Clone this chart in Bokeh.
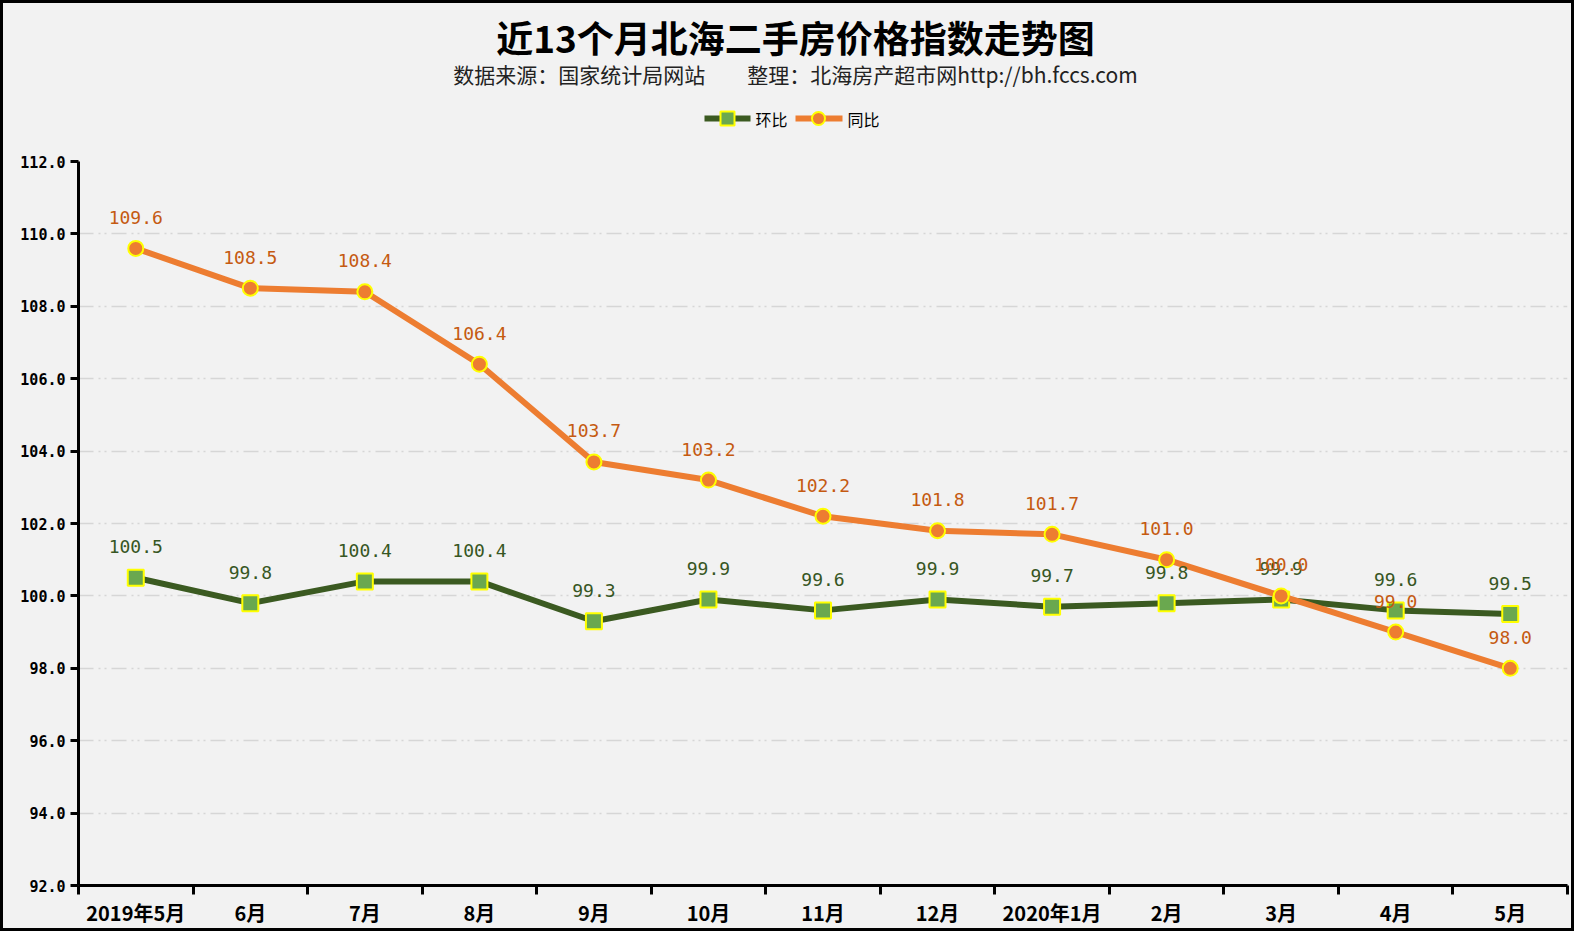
from bokeh.plotting import figure
from bokeh.layouts import column
from bokeh.models import (FixedTicker, PrintfTickFormatter, ColumnDataSource, Range1d,
                          InlineStyleSheet)
from bokeh.core.properties import value
from bokeh.embed import file_html
from bokeh.resources import INLINE

categories = ["2019年5月", "6月", "7月", "8月", "9月", "10月", "11月", "12月",
              "2020年1月", "2月", "3月", "4月", "5月"]
huanbi = [100.5, 99.8, 100.4, 100.4, 99.3, 99.9, 99.6, 99.9, 99.7, 99.8, 99.9, 99.6, 99.5]
tongbi = [109.6, 108.5, 108.4, 106.4, 103.7, 103.2, 102.2, 101.8, 101.7, 101.0, 100.0, 99.0, 98.0]
y_ticks = [92, 94, 96, 98, 100, 102, 104, 106, 108, 110, 112]
series_names = ["环比", "同比"]
title_text = "近13个月北海二手房价格指数走势图"
subtitle_text = "数据来源：国家统计局网站\u3000\u3000整理：北海房产超市网http://bh.fccs.com"

FONT = "Noto Sans CJK SC"
MONO = "DejaVu Sans Mono"
BG = "#f2f2f2"
GREEN_LINE = "#3b5a21"
GREEN_FILL = "#6aa84f"
ORANGE = "#ed7d31"
YELLOW = "#ffff00"

W = 1574
HEADER_H = 151
LEFT, RIGHT = 78, 1567   # frame edges (page px)

# ---------------- header (title, subtitle, legend) ----------------
h = figure(width=W, height=HEADER_H, output_backend="svg", toolbar_location=None,
           x_range=Range1d(LEFT, RIGHT), y_range=Range1d(HEADER_H, 0),
           min_border_left=LEFT, min_border_right=W - RIGHT, min_border_top=0,
           min_border_bottom=0, background_fill_color=BG, border_fill_color=BG,
           outline_line_color=None)
h.styles = {"background-color": BG}
h.axis.visible = False
h.grid.visible = False

h.text(x=[795], y=[36], text=[title_text], text_font=value(FONT), text_font_style="bold",
       text_font_size="37px", text_color="black", text_align="center", text_baseline="middle")
h.text(x=[795], y=[73], text=[subtitle_text], text_font=value(FONT),
       text_font_size="21px", text_color="#222222", text_align="center", text_baseline="middle")

# legend
h.line(x=[704, 750], y=[118, 118], line_color=GREEN_LINE, line_width=6)
h.scatter(x=[727], y=[118], marker="square", size=14, fill_color=GREEN_FILL,
          line_color=YELLOW, line_width=2)
h.text(x=[755], y=[118], text=[series_names[0]], text_font=value(FONT), text_font_size="16px",
       text_color="black", text_align="left", text_baseline="middle")
h.line(x=[795, 842], y=[118, 118], line_color=ORANGE, line_width=6)
h.scatter(x=[818], y=[118], marker="circle", size=13, fill_color=ORANGE,
          line_color=YELLOW, line_width=2)
h.text(x=[847], y=[118], text=[series_names[1]], text_font=value(FONT), text_font_size="16px",
       text_color="black", text_align="left", text_baseline="middle")

# ---------------- main chart ----------------
n = len(categories)
xs = [i + 0.5 for i in range(n)]
src = ColumnDataSource(dict(
    x=xs, hb=huanbi, tb=tongbi,
    hb_txt=["%.1f" % v for v in huanbi],
    tb_txt=["%.1f" % v for v in tongbi],
))

p = figure(width=W, height=780, output_backend="svg", toolbar_location=None,
           x_range=Range1d(0, n), y_range=Range1d(92, 112),
           min_border_left=LEFT, min_border_right=W - RIGHT, min_border_top=10,
           min_border_bottom=46,
           background_fill_color=BG, border_fill_color=BG, outline_line_color=None)
p.styles = {"background-color": BG}

p.xaxis.ticker = FixedTicker(ticks=xs, minor_ticks=list(range(0, n + 1)))
p.xaxis.major_label_overrides = {x: c for x, c in zip(xs, categories)}
p.xaxis.major_tick_out = 0
p.xaxis.major_tick_in = 0
p.xaxis.minor_tick_out = 9
p.xaxis.minor_tick_in = 0
p.xaxis.minor_tick_line_width = 3
p.xaxis.minor_tick_line_color = "black"
p.xaxis.axis_line_width = 3
p.xaxis.axis_line_color = "black"
p.xaxis.major_label_text_font = FONT
p.xaxis.major_label_text_font_style = "bold"
p.xaxis.major_label_text_font_size = "20px"
p.xaxis.major_label_text_color = "black"
p.xaxis.major_label_standoff = 3

p.yaxis.ticker = FixedTicker(ticks=y_ticks)
p.yaxis.formatter = PrintfTickFormatter(format="%.1f")
p.yaxis.major_tick_out = 8
p.yaxis.major_tick_in = 0
p.yaxis.minor_tick_out = 0
p.yaxis.minor_tick_in = 0
p.yaxis.major_tick_line_width = 3
p.yaxis.axis_line_width = 3
p.yaxis.axis_line_color = "black"
p.yaxis.major_label_text_font = MONO
p.yaxis.major_label_text_font_style = "bold"
p.yaxis.major_label_text_font_size = "15px"
p.yaxis.major_label_text_color = "black"
p.yaxis.major_label_standoff = 5

p.xgrid.grid_line_color = None
p.ygrid.ticker = FixedTicker(ticks=y_ticks[1:])
p.ygrid.grid_line_color = "#d6d6d6"
p.ygrid.grid_line_width = 1.5
p.ygrid.grid_line_dash = "15 5 2 4 2 5"

p.line("x", "hb", source=src, line_color=GREEN_LINE, line_width=6)
p.scatter("x", "hb", source=src, marker="square", size=16,
          fill_color=GREEN_FILL, line_color=YELLOW, line_width=2)
p.line("x", "tb", source=src, line_color=ORANGE, line_width=6)
p.scatter("x", "tb", source=src, marker="circle", size=15,
          fill_color=ORANGE, line_color=YELLOW, line_width=2)

p.text("x", "hb", text="hb_txt", source=src, text_font=value(MONO), text_font_size="18px",
       text_color="#375623", text_align="center", text_baseline="middle", y_offset=-31)
p.text("x", "tb", text="tb_txt", source=src, text_font=value(MONO), text_font_size="18px",
       text_color="#c55a11", text_align="center", text_baseline="middle", y_offset=-31)

layout = column(h, p, spacing=0)
layout.styles = {"background-color": BG}
layout.stylesheets = [InlineStyleSheet(css=(
    ":host::after { content: ''; position: absolute; left: 0; top: 0; right: 0; bottom: 0; "
    "border: 3px solid #000000; pointer-events: none; z-index: 1000; }"))]

open("out.html", "w").write(file_html(layout, INLINE))
